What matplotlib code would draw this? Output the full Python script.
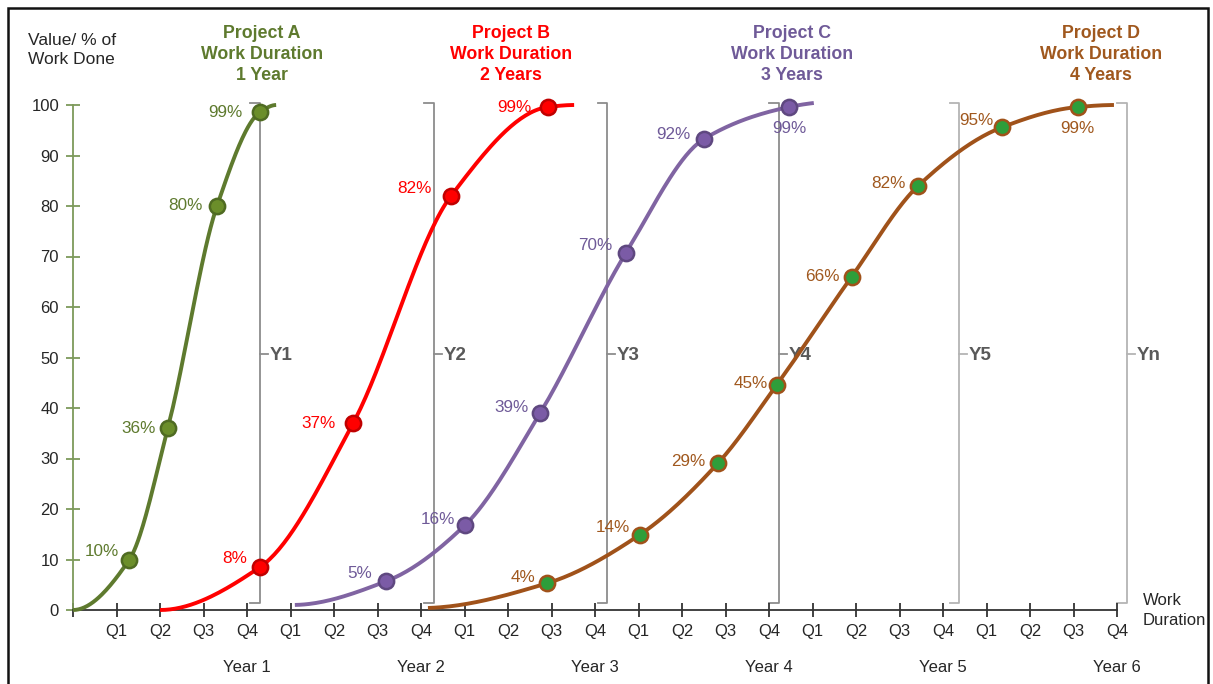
import numpy as np
import matplotlib
matplotlib.use('Agg')
import matplotlib.pyplot as plt
from matplotlib.patches import Rectangle

plt.rcParams['font.family'] = ['Liberation Sans', 'DejaVu Sans']

# quarter index on x (0 = start of Year 1), % work done on y
a_x = [0.0, 1.29, 2.18, 3.31, 4.30, 4.67]
a_y = [0.0, 9.9, 36.0, 80.0, 98.6, 100.0]
a_lab = ['', '10%', '36%', '80%', '99%', '']

b_x = [2.0, 4.30, 6.44, 8.69, 10.92, 11.52]
b_y = [0.0, 8.5, 37.0, 82.0, 99.6, 100.0]
b_lab = ['', '8%', '37%', '82%', '99%', '']

c_x = [5.1, 7.2, 9.01, 10.74, 12.71, 14.51, 16.46, 17.03]
c_y = [1.0, 5.7, 16.8, 39.0, 70.7, 93.3, 99.6, 100.4]
c_lab = ['', '5%', '16%', '39%', '70%', '92%', '99%', '']

d_x = [8.16, 10.9, 13.03, 14.83, 16.18, 17.9, 19.43, 21.36, 23.1, 23.93]
d_y = [0.4, 5.3, 14.9, 29.1, 44.6, 66.0, 84.0, 95.6, 99.6, 100.0]
d_lab = ['', '4%', '14%', '29%', '45%', '66%', '82%', '95%', '99%', '']

titles = ['Project A\nWork Duration\n1 Year', 'Project B\nWork Duration\n2 Years',
          'Project C\nWork Duration\n3 Years', 'Project D\nWork Duration\n4 Years']
title_x = [4.34, 10.07, 16.53, 23.63]

quarters = ['Q1', 'Q2', 'Q3', 'Q4'] * 6
years = ['Year 1', 'Year 2', 'Year 3', 'Year 4', 'Year 5', 'Year 6']
bracket_x = [4.30, 8.30, 12.28, 16.23, 20.37, 24.23]
bracket_lab = ['Y1', 'Y2', 'Y3', 'Y4', 'Y5', 'Yn']


def pchip_end(h0, h1, m0, m1):
    d = ((2 * h0 + h1) * m0 - h0 * m1) / (h0 + h1)
    if np.sign(d) != np.sign(m0):
        d = 0.0
    elif np.sign(m0) != np.sign(m1) and abs(d) > abs(3 * m0):
        d = 3 * m0
    return d


def smooth(xs, ys, n=40):
    # monotone cubic through the points, so the ends do not curl over
    x = np.asarray(xs, float)
    y = np.asarray(ys, float)
    h = np.diff(x)
    m = np.diff(y) / h
    d = np.zeros_like(x)
    for k in range(1, len(x) - 1):
        if m[k - 1] * m[k] > 0:
            w1 = 2 * h[k] + h[k - 1]
            w2 = h[k] + 2 * h[k - 1]
            d[k] = (w1 + w2) / (w1 / m[k - 1] + w2 / m[k])
    d[0] = pchip_end(h[0], h[1], m[0], m[1])
    d[-1] = pchip_end(h[-1], h[-2], m[-1], m[-2])
    px, py = [], []
    t = np.linspace(0, 1, n)
    for k in range(len(x) - 1):
        h00 = 2 * t ** 3 - 3 * t ** 2 + 1
        h10 = t ** 3 - 2 * t ** 2 + t
        h01 = -2 * t ** 3 + 3 * t ** 2
        h11 = t ** 3 - t ** 2
        px.append(x[k] + t * h[k])
        py.append(h00 * y[k] + h10 * h[k] * d[k] + h01 * y[k + 1] + h11 * h[k] * d[k + 1])
    return np.concatenate(px), np.concatenate(py)


fig = plt.figure(figsize=(12.13, 6.84), dpi=100)
ax = fig.add_axes([73 / 1213, 74 / 684, 1044 / 1213, 505 / 684])
ax.set_xlim(0, 24)
ax.set_ylim(0, 100)

# brackets
for i, bx in enumerate(bracket_x):
    col = '#8c8c8c' if i < 4 else '#b4b4b4'
    ax.plot([bx - 0.22, bx, bx, bx - 0.22], [100.4, 100.4, 1.4, 1.4], color=col, lw=1.3,
            clip_on=False, zorder=1)
    ax.plot([bx, bx + 0.18], [50.7, 50.7], color=col, lw=1.3, clip_on=False, zorder=1)
    ax.text(bx + 0.22, 50.4, bracket_lab[i], color='#595959', fontsize=13.5, fontweight='bold',
            ha='left', va='center', clip_on=False, zorder=1)

projects = [
    (a_x, a_y, a_lab, '#5e7a2e', '#6b8e2a', '#4f6b22', '#5e7a2e',
     [(-10, 9), (-12, 0), (-14, 0), (-18, 0)]),
    (b_x, b_y, b_lab, '#ff0000', '#ff0000', '#c00000', '#ff0000',
     [(-13, 9), (-17, 0), (-19, 7), (-17, 0)]),
    (c_x, c_y, c_lab, '#8064a2', '#7b5ba6', '#5f4880', '#6f5a98',
     [(-14, 8), (-10, 6), (-12, 6), (-14, 7), (-14, 4), (0, -21)]),
    (d_x, d_y, d_lab, '#a0521a', '#2e9e3a', '#a0521a', '#a0581e',
     [(-12, 6), (-10, 7), (-13, 2), (-9, 1), (-12, 0), (-13, 2), (-9, 7), (0, -21)]),
]

for k, (xs, ys, labs, lc, mfc, mec, tc, offs) in enumerate(projects):
    cx, cy = smooth(xs, ys)
    ax.plot(cx, cy, color=lc, lw=2.8, solid_capstyle='butt', zorder=3, clip_on=False)
    mx = [x for x, l in zip(xs, labs) if l]
    my = [y for y, l in zip(ys, labs) if l]
    ml = [l for l in labs if l]
    ax.plot(mx, my, 'o', ms=11, mfc=mfc, mec=mec, mew=1.8, zorder=4, clip_on=False)
    for x, y, l, (dx, dy) in zip(mx, my, ml, offs):
        ha = 'center' if dx == 0 else 'right'
        ax.annotate(l, (x, y), xytext=(dx, dy), textcoords='offset pixels', ha=ha,
                    va='center', color=tc, fontsize=12.3, zorder=5)
    ax.text(title_x[k], 110.0, titles[k], color=tc, fontsize=12.8, fontweight='bold',
            ha='center', va='center', linespacing=1.28, clip_on=False)

# axes styling
for s in ['top', 'right']:
    ax.spines[s].set_visible(False)
ax.spines['left'].set_color('#7d9a5a')
ax.spines['left'].set_linewidth(1.3)
ax.spines['bottom'].set_color('#333333')
ax.spines['bottom'].set_linewidth(1.3)

ax.set_yticks(range(0, 101, 10))
ax.tick_params(axis='y', direction='inout', length=10, width=1.3, color='#7d9a5a',
               labelsize=12, labelcolor='#262626', pad=5)
ax.set_xticks(range(0, 25))
ax.set_xticklabels([''] + quarters)
ax.tick_params(axis='x', direction='inout', length=10, width=1.3, color='#333333',
               labelsize=12, labelcolor='#262626', pad=5)

for i, yl in enumerate(years):
    ax.text(4 * (i + 1), -0.113, yl, transform=ax.get_xaxis_transform(), ha='center',
            va='center', fontsize=12, color='#262626')

ax.text(24.6, -0.1, 'Work\nDuration', ha='left', va='center', fontsize=12, color='#262626',
        linespacing=1.45, clip_on=False)
ax.text(-1.03, 110.9, 'Value/ % of\nWork Done', ha='left', va='center', fontsize=12.5,
        color='#262626', linespacing=1.4, clip_on=False)

# outer frame
fig.patches.append(Rectangle((8 / 1213, -0.02), 1200 / 1213, 1 - 8 / 684 + 0.02,
                             transform=fig.transFigure, fill=False, ec='#111111', lw=1.8))

fig.savefig('out.png', dpi=100)
